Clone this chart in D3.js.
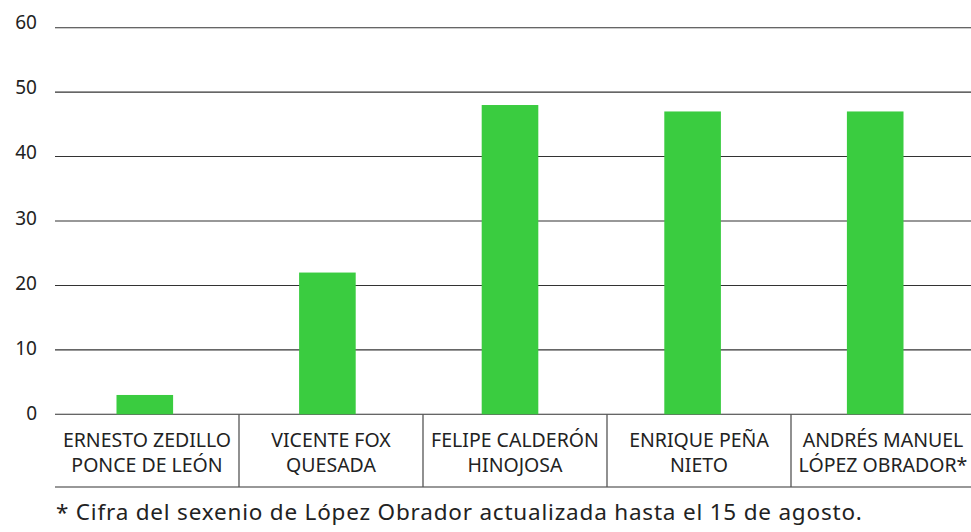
<!DOCTYPE html>
<html><head><meta charset="utf-8">
<script src="https://cdn.jsdelivr.net/npm/d3@7"></script>
<style>body{margin:0;background:#fff}svg{display:block;font-family:"Noto Sans",sans-serif}</style>
</head><body><svg id="c" width="971" height="532"></svg>
<script>
const categories = [["ERNESTO ZEDILLO","PONCE DE LEÓN"],["VICENTE FOX","QUESADA"],["FELIPE CALDERÓN","HINOJOSA"],["ENRIQUE PEÑA","NIETO"],["ANDRÉS MANUEL","LÓPEZ OBRADOR*"]];
const values = [3, 22, 48, 47, 47];
const yTicks = [0,10,20,30,40,50,60];
const footnote = "* Cifra del sexenio de López Obrador actualizada hasta el 15 de agosto.";

const svg = d3.select("#c");
const mLeft = 55, mRight = 971, mTop = 27.7, mBottom = 414.3, tableBottom = 487;
const keys = categories.map((c,i)=>i);
// table cells
const xt = d3.scaleBand().domain(keys).range([mLeft,975]).paddingInner(0).paddingOuter(0);
// bar positions
const xb = d3.scaleBand().domain(keys).range([53.5,966.5]).paddingInner(0.69).paddingOuter(0.345);
const y = d3.scaleLinear().domain([0,60]).range([mBottom,mTop]);
const yl = d3.scaleLinear().domain([0,60]).range([412.8,21.7]);

// gridlines
svg.append("g").selectAll("line").data(yTicks).join("line")
  .attr("x1",mLeft).attr("x2",mRight)
  .attr("y1",d=>y(d)).attr("y2",d=>y(d))
  .attr("stroke","#333").attr("stroke-width",1.1);

// y labels
const yAxis = d3.axisLeft(yl).tickValues(yTicks).tickSize(0).tickPadding(0);
const ga = svg.append("g").attr("transform",`translate(37,0)`).call(yAxis);
ga.select(".domain").remove();
ga.selectAll("text").attr("font-size",19).attr("fill","#222").attr("font-family","Noto Sans").attr("dy","0.36em");

// bars
svg.append("g").selectAll("rect").data(values).join("rect")
  .attr("x",(d,i)=>xb(i))
  .attr("width",xb.bandwidth())
  .attr("y",d=>y(d)).attr("height",d=>mBottom-y(d))
  .attr("fill","#3acc40");

// table
svg.append("line").attr("x1",mLeft).attr("x2",mRight).attr("y1",tableBottom).attr("y2",tableBottom).attr("stroke","#333").attr("stroke-width",1.1);
svg.append("g").selectAll("line").data(keys.slice(1)).join("line")
  .attr("x1",d=>xt(d)).attr("x2",d=>xt(d)).attr("y1",mBottom).attr("y2",tableBottom)
  .attr("stroke","#555").attr("stroke-width",1.3);

const lab = svg.append("g").selectAll("text").data(categories).join("text")
  .attr("text-anchor","middle").attr("font-size",19.5).attr("fill","#222");
lab.each(function(d,i){
  const t = d3.select(this);
  const cx = i < keys.length-1 ? xt(i)+xt.bandwidth()/2 : (xt(i)+mRight)/2+2;
  d.forEach((s,j)=>t.append("tspan").attr("x",cx).attr("y",446.7+j*25).text(s));
});

svg.append("text").attr("x",56).attr("y",519.5).attr("font-size",22.5).attr("letter-spacing","0.8").attr("fill","#222").text(footnote);
</script></body></html>
